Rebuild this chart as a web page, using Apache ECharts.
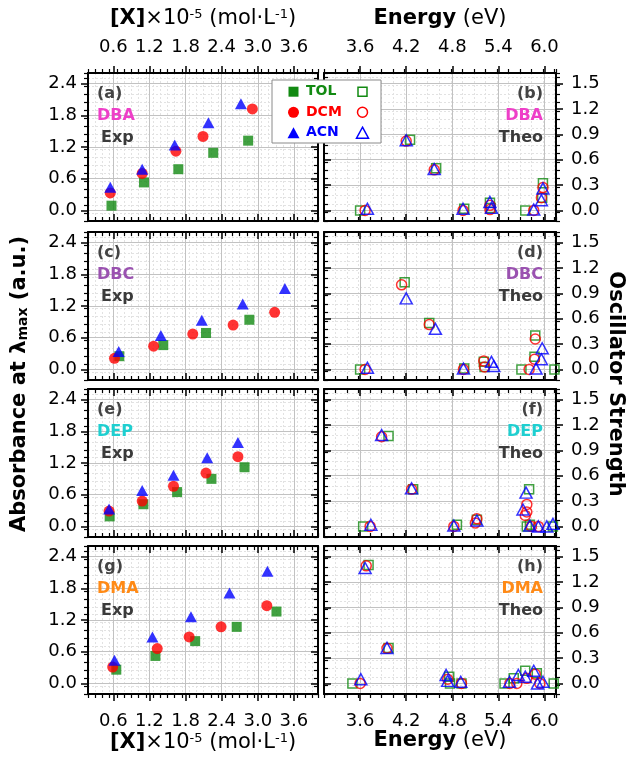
<!DOCTYPE html>
<html><head><meta charset="utf-8">
<script src="https://cdn.jsdelivr.net/npm/echarts@6/dist/echarts.min.js"></script>
<style>html,body{margin:0;padding:0;background:#fff}#c{width:629px;height:759px}</style>
</head><body><div id="c"></div>
<script>
// ---------------- data ----------------
const solvents = ['TOL', 'DCM', 'ACN'];
const compounds = ['DBA', 'DBC', 'DEP', 'DMA'];
const compoundColors = ['#ee3fc8', '#9a52b0', '#1fcfd0', '#ff8a16'];
const leftLetters = ['(a)', '(c)', '(e)', '(g)'];
const rightLetters = ['(b)', '(d)', '(f)', '(h)'];

const concTicks = [0.6, 1.2, 1.8, 2.4, 3.0, 3.6];
const energyTicks = [3.6, 4.2, 4.8, 5.4, 6.0];
const absTicks = [0.0, 0.6, 1.2, 1.8, 2.4];
const oscTicks = [0.0, 0.3, 0.6, 0.9, 1.2, 1.5];

// Experimental: [concentration x1e-5 mol/L, absorbance]
const dbaExpTOL = [[0.57,0.09],[1.11,0.53],[1.68,0.78],[2.26,1.09],[2.84,1.32]];
const dbaExpDCM = [[0.55,0.33],[1.08,0.70],[1.64,1.12],[2.09,1.40],[2.91,1.92]];
const dbaExpACN = [[0.55,0.44],[1.08,0.78],[1.62,1.24],[2.18,1.66],[2.72,2.02]];

const dbcExpTOL = [[0.70,0.25],[1.43,0.46],[2.14,0.69],[2.86,0.94]];
const dbcExpDCM = [[0.62,0.21],[1.27,0.44],[1.92,0.67],[2.59,0.84],[3.28,1.08]];
const dbcExpACN = [[0.69,0.34],[1.39,0.64],[2.07,0.93],[2.75,1.24],[3.45,1.53]];

const depExpTOL = [[0.54,0.19],[1.10,0.42],[1.66,0.65],[2.23,0.90],[2.78,1.12]];
const depExpDCM = [[0.53,0.29],[1.08,0.48],[1.60,0.76],[2.14,1.01],[2.67,1.32]];
const depExpACN = [[0.53,0.33],[1.08,0.68],[1.60,0.97],[2.16,1.30],[2.67,1.59]];

const dmaExpTOL = [[0.65,0.26],[1.30,0.52],[1.96,0.80],[2.65,1.07],[3.31,1.36]];
const dmaExpDCM = [[0.59,0.31],[1.33,0.66],[1.86,0.88],[2.39,1.07],[3.15,1.47]];
const dmaExpACN = [[0.62,0.44],[1.25,0.88],[1.89,1.26],[2.53,1.71],[3.16,2.12]];

// Theoretical: [energy eV, oscillator strength]
const dbaTheoTOL = [[3.60,0.00],[4.25,0.835],[4.59,0.50],[4.955,0.02],[5.29,0.09],[5.30,0.03],[5.75,0.00],[5.98,0.32],[5.97,0.15]];
const dbaTheoDCM = [[3.665,0.00],[4.20,0.82],[4.565,0.48],[4.94,0.00],[5.29,0.06],[5.29,0.01],[5.86,0.00],[5.98,0.27],[5.96,0.15]];
const dbaTheoACN = [[3.695,0.02],[4.20,0.83],[4.565,0.49],[4.94,0.02],[5.29,0.10],[5.31,0.03],[5.86,0.01],[5.96,0.12],[5.98,0.26]];

const dbcTheoTOL = [[3.60,0.00],[4.18,1.03],[4.50,0.55],[4.955,0.01],[5.21,0.09],[5.22,0.03],[5.70,0.00],[5.88,0.40],[5.87,0.15],[6.13,0.00]];
const dbcTheoDCM = [[3.665,0.00],[4.14,1.00],[4.50,0.53],[4.945,0.00],[5.21,0.10],[5.22,0.03],[5.80,0.00],[5.88,0.36],[5.87,0.12]];
const dbcTheoACN = [[3.695,0.02],[4.20,0.84],[4.58,0.48],[4.945,0.01],[5.31,0.09],[5.34,0.04],[5.89,0.01],[5.96,0.12],[5.97,0.25]];

const depTheoTOL = [[3.64,0.00],[3.97,1.07],[4.29,0.44],[4.86,0.02],[5.12,0.08],[5.77,0.00],[5.80,0.44],[5.81,0.02],[6.11,0.00]];
const depTheoDCM = [[3.73,0.00],[3.88,1.06],[4.27,0.44],[4.82,0.00],[5.10,0.04],[5.12,0.09],[5.77,0.26],[5.77,0.17],[5.75,0.13],[5.83,0.00],[5.92,0.00]];
const depTheoACN = [[3.74,0.02],[3.88,1.08],[4.27,0.45],[4.82,0.01],[5.12,0.07],[5.76,0.40],[5.72,0.20],[5.81,0.01],[5.92,0.00],[6.03,0.00],[6.11,0.03]];

const dmaTheoTOL = [[3.50,0.00],[3.71,1.40],[3.97,0.42],[4.76,0.08],[4.77,0.00],[4.92,0.00],[5.48,0.00],[5.60,0.06],[5.75,0.15],[5.90,0.12],[6.12,0.00]];
const dmaTheoDCM = [[3.60,0.00],[3.68,1.39],[3.95,0.415],[4.74,0.05],[4.92,0.00],[5.55,0.00],[5.64,0.00],[5.77,0.06],[5.88,0.11],[5.94,0.00]];
const dmaTheoACN = [[3.61,0.05],[3.665,1.365],[3.95,0.42],[4.72,0.10],[4.74,0.03],[4.91,0.02],[5.545,0.02],[5.66,0.10],[5.75,0.08],[5.86,0.15],[5.91,0.00],[5.98,0.02]];

const expSets = [[dbaExpTOL,dbaExpDCM,dbaExpACN],[dbcExpTOL,dbcExpDCM,dbcExpACN],[depExpTOL,depExpDCM,depExpACN],[dmaExpTOL,dmaExpDCM,dmaExpACN]];
const theoSets = [[dbaTheoTOL,dbaTheoDCM,dbaTheoACN],[dbcTheoTOL,dbcTheoDCM,dbcTheoACN],[depTheoTOL,depTheoDCM,depTheoACN],[dmaTheoTOL,dmaTheoDCM,dmaTheoACN]];

// ---------------- styling ----------------
const FONT = 'DejaVu Sans';
const COLORS = ['#128a12', '#ff0000', '#0000ff'];
const SYMBOLS = ['rect', 'circle', 'triangle'];
const FILLED_SIZE = [10, 11, [12, 11]];
const OPEN_SIZE = [9, 10, [12, 11]];
const TOPS = [73, 232, 389, 546];
const PH = 148;
const LEFT = {x: 88, w: 230, xmin: 0.18, xmax: 4.0, xmaj: 0.6, xmin2: 0.12, ymin: -0.2, ymax: 2.6, ymaj: 0.6, ymin2: 0.15, xt: concTicks, yt: absTicks};
const RIGHT = {x: 324, w: 232, xmin: 3.13, xmax: 6.15, xmaj: 0.6, xmin2: 0.15, ymin: -0.125, ymax: 1.625, ymaj: 0.3, ymin2: 0.1, xt: energyTicks, yt: oscTicks};

const fmt1 = v => (Math.round(v * 10) / 10).toFixed(1);
const grids = [], xAxes = [], yAxes = [], series = [], graphics = [];

function minorAxis(gi, min, max, interval, pos, inside, split) {
  return {
    type: 'value', gridIndex: gi, position: pos, min, max, interval, z: 0,
    axisLine: {show: false, onZero: false},
    axisTick: {show: true, inside, length: 4, lineStyle: {color: '#000', width: 1.2}},
    axisLabel: {show: false},
    splitLine: {show: split, lineStyle: {color: '#e2e2e2', width: 1, type: [2, 2]}}
  };
}
function majorAxis(gi, min, max, interval, pos, labeled, split, ticks, margin) {
  return {
    type: 'value', gridIndex: gi, position: pos, min, max, interval, z: 1,
    axisLine: {show: true, onZero: false, lineStyle: {color: '#000', width: 2}},
    axisTick: {show: true, inside: !labeled, length: 7, customValues: ticks, lineStyle: {color: '#000', width: 1.5}},
    axisLabel: {show: labeled, customValues: ticks, formatter: fmt1, margin, color: '#000', fontFamily: FONT, fontSize: 18},
    splitLine: {show: split, lineStyle: {color: '#c2c2c2', width: 1}}
  };
}

for (let r = 0; r < 4; r++) {
  for (let side = 0; side < 2; side++) {
    const cfg = side === 0 ? LEFT : RIGHT;
    const p = r * 2 + side;
    grids.push({left: cfg.x, top: TOPS[r], width: cfg.w, height: PH, outerBoundsMode: 'none', containLabel: false});
    const topLab = r === 0, botLab = r === 3;
    xAxes.push(minorAxis(p, cfg.xmin, cfg.xmax, cfg.xmin2, 'bottom', !botLab, true));
    xAxes.push(minorAxis(p, cfg.xmin, cfg.xmax, cfg.xmin2, 'top', !topLab, false));
    xAxes.push(majorAxis(p, cfg.xmin, cfg.xmax, cfg.xmaj, 'bottom', botLab, true, cfg.xt, 18));
    xAxes.push(majorAxis(p, cfg.xmin, cfg.xmax, cfg.xmaj, 'top', topLab, false, cfg.xt, 17));
    const leftLab = side === 0, rightLab = side === 1;
    yAxes.push(minorAxis(p, cfg.ymin, cfg.ymax, cfg.ymin2, 'left', !leftLab, true));
    yAxes.push(minorAxis(p, cfg.ymin, cfg.ymax, cfg.ymin2, 'right', !rightLab, false));
    yAxes.push(majorAxis(p, cfg.ymin, cfg.ymax, cfg.ymaj, 'left', leftLab, true, cfg.yt, 11));
    yAxes.push(majorAxis(p, cfg.ymin, cfg.ymax, cfg.ymaj, 'right', rightLab, false, cfg.yt, 15));

    const sets = side === 0 ? expSets[r] : theoSets[r];
    for (let s = 0; s < 3; s++) {
      const filled = side === 0;
      series.push({
        type: 'scatter',
        name: filled ? solvents[s] : solvents[s] + ' (Theo)',
        xAxisIndex: p * 4 + 2, yAxisIndex: p * 4 + 2,
        data: sets[s],
        symbol: SYMBOLS[s],
        symbolSize: filled ? FILLED_SIZE[s] : OPEN_SIZE[s],
        itemStyle: filled ? {color: COLORS[s]} : {color: 'rgba(0,0,0,0)', borderColor: COLORS[s], borderWidth: 1.5},
        z: 3 + s, silent: true, emphasis: {disabled: true}
      });
    }
    // panel annotations
    const cy = TOPS[r];
    const tx = side === 0 ? 97 : 543, al = side === 0 ? 'left' : 'right';
    const lines = [[side === 0 ? leftLetters[r] : rightLetters[r], '#444444', 21],
                   [compounds[r], compoundColors[r], 43],
                   [side === 0 ? 'Exp' : 'Theo', '#3a3a3a', 65]];
    lines.forEach(([t, c, dy], i) => {
      graphics.push({type: 'text', x: side === 0 && i === 2 ? tx + 4 : tx, y: cy + dy, z: 50,
        style: {text: t, fill: c, fontFamily: FONT, fontWeight: 'bold', fontSize: 16, align: al, verticalAlign: 'middle'}});
    });
  }
}

// axis titles
const titleRich = {
  b: {fontFamily: FONT, fontWeight: 'bold', fontSize: 21, fill: '#000'},
  r: {fontFamily: FONT, fontSize: 21, fill: '#000'},
  s: {fontFamily: FONT, fontSize: 13, fill: '#000', verticalAlign: 'top'},
  sub: {fontFamily: FONT, fontWeight: 'bold', fontSize: 14, fill: '#000', verticalAlign: 'bottom'}
};
const concTitle = '{b|[X]}{r|×10}{s|-5}{r| (mol·L}{s|-1}{r|)}';
const energyTitle = '{b|Energy}{r| (eV)}';
[[concTitle, 203, 19], [energyTitle, 440, 19], [concTitle, 203, 743], [energyTitle, 440, 741]].forEach(([t, x, y]) => {
  graphics.push({type: 'text', x, y, z: 50, style: {text: t, rich: titleRich, align: 'center', verticalAlign: 'middle'}});
});
graphics.push({type: 'text', x: 20, y: 384, rotation: Math.PI / 2, z: 50,
  style: {text: '{b|Absorbance at λ}{sub|max}{b| (a.u.)}', rich: titleRich, align: 'center', verticalAlign: 'middle'}});
graphics.push({type: 'text', x: 615, y: 384, rotation: -Math.PI / 2, z: 50,
  style: {text: '{b|Oscillator Strength}', rich: titleRich, align: 'center', verticalAlign: 'middle'}});

// legend (frame, keys, labels)
const legendRows = [91.7, 112.3, 132.7];
graphics.push({type: 'rect', z: 100, shape: {x: 272, y: 80, width: 109, height: 63},
  style: {fill: '#ffffff', stroke: '#8a8a8a', lineWidth: 1}});
function keyShape(kind, cx, cy, filled, color) {
  const st = filled ? {fill: color, stroke: null} : {fill: 'none', stroke: color, lineWidth: 1.5};
  if (kind === 0) { const a = filled ? 10 : 9; return {type: 'rect', z: 101, shape: {x: cx - a / 2, y: cy - a / 2, width: a, height: a}, style: st}; }
  if (kind === 1) return {type: 'circle', z: 101, shape: {cx, cy, r: filled ? 5.5 : 5}, style: st};
  return {type: 'polygon', z: 101, shape: {points: [[cx, cy - 5.5], [cx + 6, cy + 5.5], [cx - 6, cy + 5.5]]}, style: st};
}
solvents.forEach((s, i) => {
  graphics.push(keyShape(i, 293.5, legendRows[i], true, COLORS[i]));
  graphics.push({type: 'text', x: 306, y: legendRows[i], z: 101,
    style: {text: s, fill: COLORS[i], fontFamily: FONT, fontWeight: 'bold', fontSize: 14, align: 'left', verticalAlign: 'middle'}});
  graphics.push(keyShape(i, 362.5, legendRows[i], false, COLORS[i]));
});

const option = {
  animation: false,
  backgroundColor: '#ffffff',
  grid: grids,
  xAxis: xAxes,
  yAxis: yAxes,
  series: series,
  graphic: {elements: graphics}
};
const chart = echarts.init(document.getElementById('c'), null, {renderer: 'canvas', width: 629, height: 759});
chart.setOption(option);
</script></body></html>
